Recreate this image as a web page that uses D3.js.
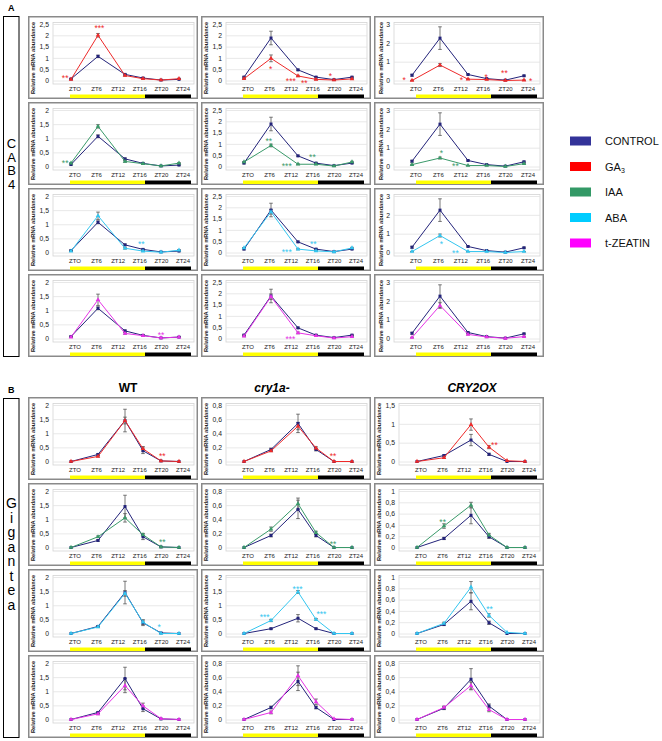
<!DOCTYPE html>
<html><head><meta charset="utf-8">
<script src="https://cdn.jsdelivr.net/npm/d3@7"></script>
<style>body{margin:0;background:#fff}svg{display:block;font-family:"Liberation Sans",Arial,sans-serif}</style>
</head><body><svg id="c" width="662" height="741"></svg>
<script>
// ---------- DATA ----------
const hours = [0, 6, 12, 16, 20, 24];
const xLabels = ["ZTO", "ZT6", "ZT12", "ZT16", "ZT20", "ZT24"];
const genotypes = ["WT", "cry1a-", "CRY2OX"];
const treatments = ["GA3", "IAA", "ABA", "t-ZEATIN"];
const legendNames = ["CONTROL", "GA3", "IAA", "ABA", "t-ZEATIN"];
const lineColors = ["#23237a", "#ee2a2a", "#3a9a6a", "#33c6f0", "#e633e6"];
const swatchColors = ["#333399", "#ff0000", "#339966", "#00ccff", "#ff00ff"];

// CAB4 (panel A): control per genotype
const cab4Control = [
  [0.07, 1.07, 0.27, 0.11, 0.02, 0.05],
  [0.15, 1.88, 0.47, 0.15, 0.04, 0.15],
  [0.28, 2.25, 0.32, 0.10, 0.02, 0.25]
];
const cab4ControlErr = [
  [0.02, 0.05, 0.03, 0.02, 0.01, 0.01],
  [0.03, 0.30, 0.03, 0.02, 0.01, 0.02],
  [0.05, 0.60, 0.03, 0.02, 0.01, 0.03]
];
// [treatment][genotype]
const cab4Treated = [
  [[0.05, 2.00, 0.22, 0.08, 0.02, 0.08], [0.08, 0.98, 0.20, 0.05, 0.02, 0.07], [0.00, 0.82, 0.07, 0.05, 0.00, 0.02]],
  [[0.12, 1.42, 0.18, 0.10, 0.02, 0.12], [0.20, 0.93, 0.10, 0.10, 0.02, 0.20], [0.10, 0.45, 0.05, 0.05, 0.00, 0.15]],
  [[0.05, 1.30, 0.15, 0.05, 0.01, 0.08], [0.20, 1.80, 0.15, 0.07, 0.03, 0.20], [0.05, 0.90, 0.05, 0.05, 0.00, 0.05]],
  [[0.05, 1.37, 0.18, 0.10, 0.02, 0.05], [0.10, 1.85, 0.25, 0.12, 0.02, 0.08], [0.05, 1.75, 0.22, 0.08, 0.01, 0.10]]
];
const cab4TreatedErr = [
  [[0.02, 0.08, 0.03, 0.02, 0.01, 0.02], [0.02, 0.15, 0.03, 0.02, 0.01, 0.02], [0.01, 0.08, 0.02, 0.01, 0.00, 0.01]],
  [[0.02, 0.06, 0.03, 0.01, 0.01, 0.02], [0.02, 0.06, 0.02, 0.02, 0.01, 0.03], [0.02, 0.05, 0.01, 0.01, 0.00, 0.02]],
  [[0.01, 0.13, 0.03, 0.01, 0.00, 0.02], [0.02, 0.10, 0.03, 0.02, 0.01, 0.03], [0.01, 0.08, 0.01, 0.01, 0.00, 0.01]],
  [[0.01, 0.20, 0.03, 0.02, 0.01, 0.01], [0.02, 0.12, 0.04, 0.02, 0.01, 0.02], [0.02, 0.15, 0.03, 0.02, 0.00, 0.02]]
];
const cab4YMax = [[2.5, 2.5, 3], [2, 2.5, 3], [2, 2.5, 3], [2, 2.5, 3]];
const cab4YStep = [[0.5, 0.5, 1], [0.5, 0.5, 1], [0.5, 0.5, 1], [0.5, 0.5, 1]];
// [row, col, hour, value, label]
const cab4Stars = [
  [0, 0, -1.3, 0.2, "**"], [0, 0, 6.3, 2.4, "***"],
  [0, 1, 5.9, 0.59, "*"], [0, 1, 10.4, 0.07, "***"], [0, 1, 13.4, -0.03, "**"], [0, 1, 19.2, 0.28, "*"],
  [0, 2, -1.7, 0.14, "*"], [0, 2, 10.6, 0.14, "*"], [0, 2, 15.9, 0.3, "*"], [0, 2, 19.8, 0.5, "**"], [0, 2, 25.4, 0.1, "*"],
  [1, 0, -1.3, 0.18, "**"],
  [1, 1, 5.5, 1.2, "**"], [1, 1, 9.5, 0.13, "***"], [1, 1, 15.2, 0.5, "**"],
  [1, 2, 6.3, 0.8, "*"], [1, 2, 9.3, 0.15, "**"],
  [2, 0, 15.6, 0.37, "**"],
  [2, 1, 9.5, 0.1, "***"], [2, 1, 15.4, 0.45, "**"],
  [2, 2, 6.3, 0.55, "*"], [2, 2, 9.3, 0.1, "**"],
  [3, 0, 20, 0.21, "**"],
  [3, 1, 10.3, 0.05, "***"]
];

// Gigantea (panel B)
const giControl = [
  [0, 0.25, 1.45, 0.38, 0.02, 0],
  [0, 0.17, 0.54, 0.17, 0.00, 0],
  [0, 0.16, 0.57, 0.19, 0.00, 0]
];
const giControlErr = [
  [0, 0.03, 0.40, 0.10, 0.01, 0],
  [0, 0.02, 0.13, 0.02, 0.00, 0],
  [0, 0.02, 0.15, 0.03, 0.00, 0]
];
const giTreated = [
  [[0, 0.18, 1.45, 0.45, 0.02, 0], [0, 0.15, 0.50, 0.19, 0.00, 0], [0, 0.10, 0.98, 0.38, 0.02, 0]],
  [[0, 0.38, 1.05, 0.45, 0.02, 0], [0, 0.26, 0.62, 0.21, 0.00, 0], [0, 0.38, 0.75, 0.22, 0.00, 0]],
  [[0, 0.23, 1.42, 0.40, 0.00, 0], [0, 0.46, 1.47, 0.50, 0.00, 0], [0, 0.18, 0.82, 0.32, 0.02, 0]],
  [[0, 0.20, 1.20, 0.48, 0.03, 0], [0, 0.10, 0.62, 0.25, 0.01, 0], [0, 0.17, 0.48, 0.14, 0.00, 0]]
];
const giTreatedErr = [
  [[0, 0.02, 0.12, 0.08, 0, 0], [0, 0.01, 0.05, 0.02, 0, 0], [0, 0.02, 0.15, 0.04, 0, 0]],
  [[0, 0.03, 0.15, 0.05, 0, 0], [0, 0.03, 0.08, 0.02, 0, 0], [0, 0.04, 0.05, 0.03, 0, 0]],
  [[0, 0.02, 0.10, 0.08, 0, 0], [0, 0.04, 0.05, 0.03, 0, 0], [0, 0.02, 0.10, 0.03, 0, 0]],
  [[0, 0.03, 0.25, 0.10, 0, 0], [0, 0.02, 0.14, 0.04, 0, 0], [0, 0.02, 0.05, 0.03, 0, 0]]
];
const giYMax = [[2, 0.8, 1.5], [2, 0.8, 1], [2, 2, 1], [2, 0.8, 0.8]];
const giYStep = [[0.5, 0.2, 0.5], [0.5, 0.2, 0.2], [0.5, 0.5, 0.2], [0.5, 0.2, 0.2]];
const giStars = [
  [0, 0, 20.3, 0.25, "**"], [0, 1, 19.8, 0.1, "**"], [0, 2, 17.2, 0.5, "**"],
  [1, 0, 20.3, 0.28, "**"], [1, 1, 19.8, 0.08, "**"], [1, 2, 5.7, 0.49, "**"],
  [2, 0, 19.6, 0.29, "*"], [2, 1, 4.6, 0.64, "***"], [2, 1, 11.9, 1.64, "***"], [2, 1, 17.2, 0.75, "***"], [2, 2, 16.1, 0.47, "**"]
];
const lightPeriods = [{from: 0, to: 16, fill: "#ffff00"}, {from: 16, to: 24, fill: "#000000"}];

// ---------- DRAW ----------
const svg = d3.select("#c");
const PW = 170, PH = 83;
const colLeft = [28, 201, 374];
const fmt = v => String(+v.toFixed(2)).replace(".", ",");

function drawPanel(left, top, ctrl, ctrlErr, trt, trtErr, yMax, yStep, colorIdx, stars) {
  const g = svg.append("g").attr("transform", `translate(${left},${top})`);
  const ticks = d3.range(0, yMax + 1e-9, yStep);
  const narrow = ticks.every(t => fmt(t).length === 1);
  const plotL = narrow ? 20 : 25, plotR = 166;
  const x = d3.scaleLinear().domain([0, 24]).range([plotL + 18, narrow ? 150 : 151]);
  const xl = d3.scalePoint().domain(xLabels).range([x(0) + 4, x(24) + 4]);
  const y = d3.scaleLinear().domain([0, yMax]).range([64.5, 8]);
  const barX = d3.scaleLinear().domain([0, 16, 24]).range([42, 117, 163]);

  g.append("rect").attr("x", 0.75).attr("y", 0.75).attr("width", PW - 1.5).attr("height", PH - 1.5)
    .attr("fill", "#fff").attr("stroke", "#8a8a8a").attr("stroke-width", 1.5);
  g.append("rect").attr("x", plotL).attr("y", y(yMax) - 1.5).attr("width", plotR - plotL)
    .attr("height", y(0) - y(yMax) + 5).attr("fill", "none").attr("stroke", "#d4d4d4").attr("stroke-width", 0.8);

  const ax = g.append("g").attr("transform", `translate(${plotL},0)`)
    .call(d3.axisLeft(y).tickValues(ticks).tickFormat(fmt).tickSizeInner(-(plotR - plotL)).tickSizeOuter(0).tickPadding(4));
  ax.select(".domain").remove();
  ax.selectAll(".tick line").attr("stroke", "#e2e2e2").attr("stroke-width", 0.8);
  ax.selectAll(".tick text").attr("font-size", 6.8).attr("fill", "#222").attr("font-family", "Liberation Sans, Arial, sans-serif");

  g.append("text").attr("transform", `translate(${narrow ? 7 : 5},42) rotate(-90)`)
    .attr("text-anchor", "middle").attr("dominant-baseline", "central")
    .attr("font-size", 5.7).attr("font-weight", "bold").attr("fill", "#222").text("Relative mRNA abundance");

  g.selectAll("text.xl").data(xLabels).join("text").attr("class", "xl")
    .attr("x", d => xl(d)).attr("y", 74.5)
    .attr("text-anchor", "middle").attr("font-size", 6).attr("fill", "#222").text(d => d);

  g.selectAll("rect.lp").data(lightPeriods).join("rect").attr("class", "lp")
    .attr("x", d => barX(d.from)).attr("width", d => barX(d.to) - barX(d.from))
    .attr("y", 78.5).attr("height", 3.5).attr("fill", d => d.fill);

  const line = d3.line().x((d, i) => x(hours[i])).y(d => y(d));
  const series = [{v: ctrl, e: ctrlErr, c: lineColors[0], sym: d3.symbolSquare, sz: 9},
                  {v: trt, e: trtErr, c: lineColors[colorIdx], sym: d3.symbolTriangle, sz: 9}];
  series.forEach(s => {
    g.append("g").selectAll("g").data(s.v).join("g").each(function (d, i) {
      const e = s.e[i];
      if (e > 0.005) {
        const gg = d3.select(this), xx = x(hours[i]);
        gg.append("line").attr("x1", xx).attr("x2", xx).attr("y1", y(d - e)).attr("y2", y(d + e));
        gg.append("line").attr("x1", xx - 1.8).attr("x2", xx + 1.8).attr("y1", y(d + e)).attr("y2", y(d + e));
        gg.append("line").attr("x1", xx - 1.8).attr("x2", xx + 1.8).attr("y1", y(d - e)).attr("y2", y(d - e));
        gg.selectAll("line").attr("stroke", "#555").attr("stroke-width", 0.8);
      }
    });
  });
  series.forEach(s => {
    g.append("path").datum(s.v).attr("d", line).attr("fill", "none").attr("stroke", s.c).attr("stroke-width", 1);
    g.append("g").selectAll("path").data(s.v).join("path")
      .attr("transform", (d, i) => `translate(${x(hours[i])},${y(d)})`)
      .attr("d", d3.symbol().type(s.sym).size(s.sz)).attr("fill", s.c);
  });
  g.selectAll("text.st").data(stars).join("text").attr("class", "st")
    .attr("x", d => x(d[2])).attr("y", d => y(d[3]) + 5)
    .attr("text-anchor", "middle").attr("font-size", 8.5).attr("fill", lineColors[colorIdx]).text(d => d[4]);
}

// Section A
svg.append("text").attr("x", 8).attr("y", 11).attr("font-size", 9).attr("font-weight", "bold").text("A");
svg.append("rect").attr("x", 3.5).attr("y", 16.5).attr("width", 15.5).attr("height", 340).attr("fill", "none").attr("stroke", "#000").attr("stroke-width", 1);
svg.selectAll("text.cab").data(["C", "A", "B", "4"]).join("text").attr("class", "cab")
  .attr("x", 11.5).attr("y", (d, i) => 148 + i * 13.5).attr("text-anchor", "middle").attr("font-size", 13).text(d => d);

treatments.forEach((t, r) => {
  genotypes.forEach((gn, c) => {
    drawPanel(colLeft[c], 16 + r * 86, cab4Control[c], cab4ControlErr[c], cab4Treated[r][c], cab4TreatedErr[r][c],
      cab4YMax[r][c], cab4YStep[r][c], r + 1, cab4Stars.filter(s => s[0] === r && s[1] === c));
  });
});

// Legend
const lg = svg.append("g");
legendNames.forEach((n, i) => {
  const yy = 141 + i * 25.5;
  lg.append("rect").attr("x", 570).attr("y", yy - 4.5).attr("width", 21).attr("height", 9).attr("fill", swatchColors[i]);
  const t = lg.append("text").attr("x", 605).attr("y", yy + 4).attr("font-size", 11).attr("fill", "#111");
  if (n === "GA3") {
    t.append("tspan").text("GA");
    t.append("tspan").attr("font-size", 7).attr("dy", 2.5).text("3");
  } else t.text(n);
});

// Section B
svg.append("text").attr("x", 8).attr("y", 393).attr("font-size", 9).attr("font-weight", "bold").text("B");
const headX = [128, 272, 472];
genotypes.forEach((gn, c) => {
  svg.append("text").attr("x", headX[c]).attr("y", 392).attr("text-anchor", "middle")
    .attr("font-size", 12).attr("font-weight", "bold").attr("font-style", c === 0 ? "normal" : "italic").text(gn);
});
svg.append("rect").attr("x", 3.5).attr("y", 398.5).attr("width", 15.5).attr("height", 339).attr("fill", "none").attr("stroke", "#000").attr("stroke-width", 1);
svg.selectAll("text.gi").data("Gigantea".split("")).join("text").attr("class", "gi")
  .attr("x", 11.5).attr("y", (d, i) => 508 + i * 14.5).attr("text-anchor", "middle").attr("font-size", 14).text(d => d);

treatments.forEach((t, r) => {
  genotypes.forEach((gn, c) => {
    drawPanel(colLeft[c], 397 + r * 86, giControl[c], giControlErr[c], giTreated[r][c], giTreatedErr[r][c],
      giYMax[r][c], giYStep[r][c], r + 1, giStars.filter(s => s[0] === r && s[1] === c));
  });
});
</script></body></html>
